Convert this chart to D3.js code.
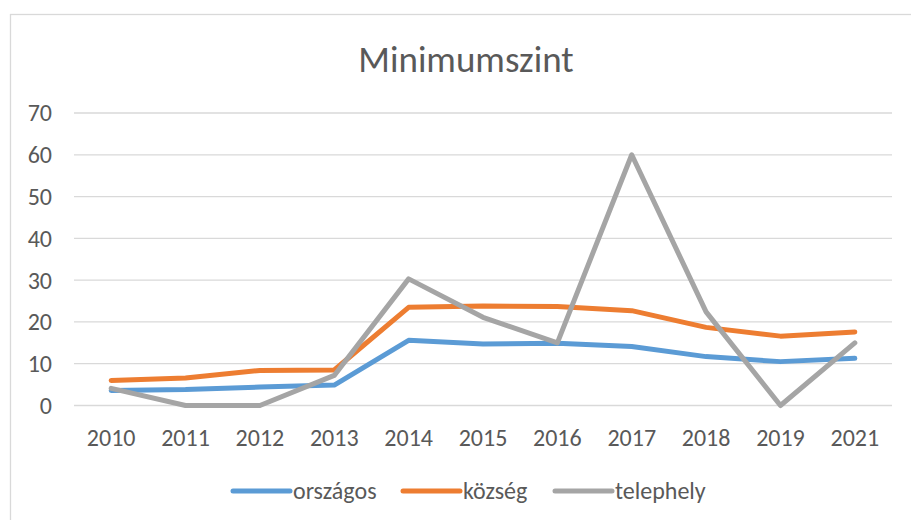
<!DOCTYPE html>
<html>
<head>
<meta charset="utf-8">
<script src="https://cdn.jsdelivr.net/npm/d3@7"></script>
<style>
  body { margin: 0; background: #fff; }
  svg text { font-family: Calibri, Carlito, "Open Sans", sans-serif; fill: #595959; }
</style>
</head>
<body>
<svg id="chart" width="911" height="520"></svg>
<script>
const years = ["2010", "2011", "2012", "2013", "2014", "2015", "2016", "2017", "2018", "2019", "2021"];
const orszagos = [3.6, 3.8, 4.4, 4.9, 15.6, 14.7, 14.9, 14.1, 11.7, 10.5, 11.3];
const kozseg = [6.0, 6.6, 8.4, 8.5, 23.5, 23.8, 23.7, 22.7, 18.7, 16.6, 17.6];
const telephely = [4.1, 0, 0, 7.2, 30.3, 21.1, 15.0, 60, 22.4, 0, 15.0];
const yTicks = [0, 10, 20, 30, 40, 50, 60, 70];

const series = [
  { name: "országos", values: orszagos, color: "#5B9BD5" },
  { name: "község", values: kozseg, color: "#ED7D31" },
  { name: "telephely", values: telephely, color: "#A5A5A5" }
];

const svg = d3.select("#chart");

// chart frame
svg.append("rect")
  .attr("x", 10.5).attr("y", 14.5)
  .attr("width", 912).attr("height", 520)
  .attr("fill", "#fff").attr("stroke", "#d9d9d9").attr("stroke-width", 1.3);

svg.append("text")
  .attr("x", 466).attr("y", 72)
  .attr("text-anchor", "middle")
  .attr("font-size", 37)
  .text("Minimumszint");

const x = d3.scalePoint().domain(years).range([74, 892]).padding(0.5);
const y = d3.scaleLinear().domain([0, 70]).range([405.5, 113]);

// gridlines
svg.append("g")
  .selectAll("line")
  .data(yTicks)
  .join("line")
  .attr("x1", 74).attr("x2", 892)
  .attr("y1", d => y(d)).attr("y2", d => y(d))
  .attr("stroke", "#d9d9d9").attr("stroke-width", 1.3);

// y labels
svg.append("g")
  .selectAll("text")
  .data(yTicks)
  .join("text")
  .attr("x", 52).attr("y", d => y(d))
  .attr("dy", "0.35em")
  .attr("text-anchor", "end")
  .attr("font-size", 24)
  .text(d => d);

// x labels
svg.append("g")
  .selectAll("text")
  .data(years)
  .join("text")
  .attr("x", d => x(d)).attr("y", 446)
  .attr("text-anchor", "middle")
  .attr("font-size", 24)
  .text(d => d);

const line = d3.line()
  .x((d, i) => x(years[i]))
  .y(d => y(d));

svg.append("g")
  .selectAll("path")
  .data(series)
  .join("path")
  .attr("d", d => line(d.values))
  .attr("fill", "none")
  .attr("stroke", d => d.color)
  .attr("stroke-width", 5)
  .attr("stroke-linecap", "round")
  .attr("stroke-linejoin", "round");

// legend
const legendX = [233, 403, 555];
const leg = svg.append("g")
  .selectAll("g")
  .data(series)
  .join("g")
  .attr("transform", (d, i) => `translate(${legendX[i]},491)`);

leg.append("line")
  .attr("x1", 0).attr("x2", 57)
  .attr("stroke", d => d.color)
  .attr("stroke-width", 5)
  .attr("stroke-linecap", "round");

leg.append("text")
  .attr("x", 60).attr("dy", "0.35em")
  .attr("font-size", 24)
  .text(d => d.name);
</script>
</body>
</html>
